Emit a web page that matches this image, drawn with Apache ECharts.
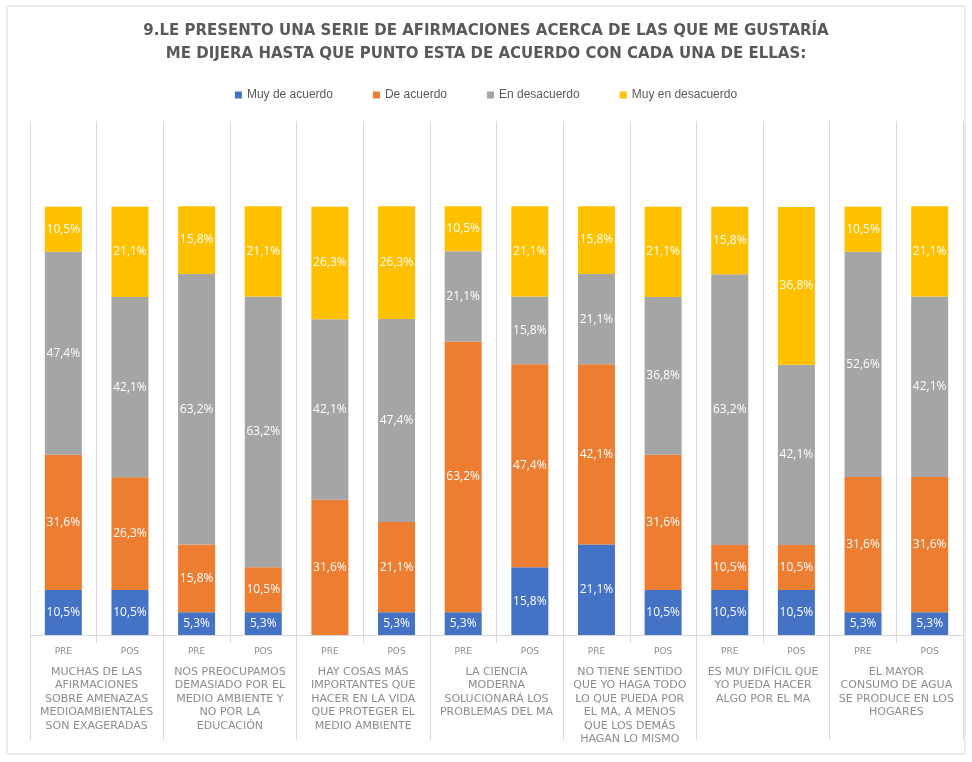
<!DOCTYPE html>
<html>
<head>
<meta charset="utf-8">
<script src="https://cdn.jsdelivr.net/npm/echarts@6/dist/echarts.min.js"></script>
<style>
  body { margin: 0; background: #fff; }
  #chart { width: 972px; height: 762px; }
</style>
</head>
<body>
<div id="chart"></div>
<script>
// categorías: cada afirmación tiene una barra PRE y otra POS
var periods = ['PRE', 'POS', 'PRE', 'POS', 'PRE', 'POS', 'PRE', 'POS', 'PRE', 'POS', 'PRE', 'POS', 'PRE', 'POS'];
var groups = [
  'MUCHAS DE LAS\nAFIRMACIONES\nSOBRE AMENAZAS\nMEDIOAMBIENTALES\nSON EXAGERADAS',
  'NOS PREOCUPAMOS\nDEMASIADO POR EL\nMEDIO AMBIENTE Y\nNO POR LA\nEDUCACIÓN',
  'HAY COSAS MÁS\nIMPORTANTES QUE\nHACER EN LA VIDA\nQUE PROTEGER EL\nMEDIO AMBIENTE',
  'LA CIENCIA\nMODERNA\nSOLUCIONARÁ LOS\nPROBLEMAS DEL MA',
  'NO TIENE SENTIDO\nQUE YO HAGA TODO\nLO QUE PUEDA POR\nEL MA, A MENOS\nQUE LOS DEMÁS\nHAGAN LO MISMO',
  'ES MUY DIFÍCIL QUE\nYO PUEDA HACER\nALGO POR EL MA',
  'EL MAYOR\nCONSUMO DE AGUA\nSE PRODUCE EN LOS\nHOGARES'
];
var seriesNames = ['Muy de acuerdo', 'De acuerdo', 'En desacuerdo', 'Muy en desacuerdo'];
// porcentajes por barra (PRE, POS de cada afirmación)
var muyDeAcuerdo = [10.5, 10.5, 5.3, 5.3, 0, 5.3, 5.3, 15.8, 21.1, 10.5, 10.5, 10.5, 5.3, 5.3];
var deAcuerdo = [31.6, 26.3, 15.8, 10.5, 31.6, 21.1, 63.2, 47.4, 42.1, 31.6, 10.5, 10.5, 31.6, 31.6];
var enDesacuerdo = [47.4, 42.1, 63.2, 63.2, 42.1, 47.4, 21.1, 15.8, 21.1, 36.8, 63.2, 42.1, 52.6, 42.1];
var muyEnDesacuerdo = [10.5, 21.1, 15.8, 21.1, 26.3, 26.3, 10.5, 21.1, 15.8, 21.1, 15.8, 36.8, 10.5, 21.1];
var colors = ['#4472C4', '#ED7D31', '#A5A5A5', '#FFC000'];

var chart = echarts.init(document.getElementById('chart'));

function makeSeries(name, data) {
  return {
    name: name,
    type: 'bar',
    stack: 'total',
    barWidth: 37,
    data: data,
    label: {
      show: true,
      position: 'inside',
      color: '#ffffff',
      fontSize: 12,
      fontFamily: 'Open Sans',
      formatter: function (p) {
        return p.value > 0 ? p.value.toFixed(1).replace('.', ',') + '%' : '';
      }
    }
  };
}

chart.setOption({
  color: colors,
  animation: false,
  title: {
    text: '9.LE PRESENTO UNA SERIE DE AFIRMACIONES ACERCA DE LAS QUE ME GUSTARÍA\nME DIJERA HASTA QUE PUNTO ESTA DE ACUERDO CON CADA UNA DE ELLAS:',
    left: 'center',
    top: 15,
    textStyle: {
      fontFamily: 'DejaVu Sans',
      fontSize: 15,
      fontWeight: 'bold',
      color: '#595959',
      lineHeight: 23
    }
  },
  legend: {
    top: 84,
    left: 'center',
    icon: 'rect',
    itemWidth: 7,
    itemHeight: 7,
    itemGap: 40,
    textStyle: { fontFamily: 'Liberation Sans', fontSize: 12, color: '#595959' },
    data: seriesNames
  },
  graphic: [{
    type: 'rect',
    shape: { x: 7, y: 6, width: 958, height: 748 },
    style: { fill: 'none', stroke: '#d9d9d9', lineWidth: 1 },
    silent: true
  }],
  grid: { left: 30, right: 9, top: 121, bottom: 127 },
  xAxis: [{
    type: 'category',
    data: periods,
    position: 'bottom',
    axisLine: { show: true, lineStyle: { color: '#d9d9d9' } },
    axisTick: { show: true, length: 8, lineStyle: { color: '#d9d9d9' } },
    splitLine: { show: true, lineStyle: { color: '#d9d9d9' } },
    axisLabel: { interval: 0, margin: 12, color: '#8c8c8c', fontSize: 9, fontFamily: 'DejaVu Sans' }
  }, {
    type: 'category',
    data: groups,
    position: 'bottom',
    axisLine: { show: false },
    axisTick: { show: true, length: 105, lineStyle: { color: '#d9d9d9' } },
    axisLabel: {
      interval: 0,
      margin: 30,
      color: '#8c8c8c',
      fontSize: 11,
      fontFamily: 'DejaVu Sans',
      lineHeight: 13.5,
      verticalAlign: 'top'
    }
  }],
  yAxis: {
    type: 'value',
    min: 0,
    max: 120,
    show: false,
    splitLine: { show: false }
  },
  series: [
    makeSeries(seriesNames[0], muyDeAcuerdo),
    makeSeries(seriesNames[1], deAcuerdo),
    makeSeries(seriesNames[2], enDesacuerdo),
    makeSeries(seriesNames[3], muyEnDesacuerdo)
  ]
});
</script>
</body>
</html>
